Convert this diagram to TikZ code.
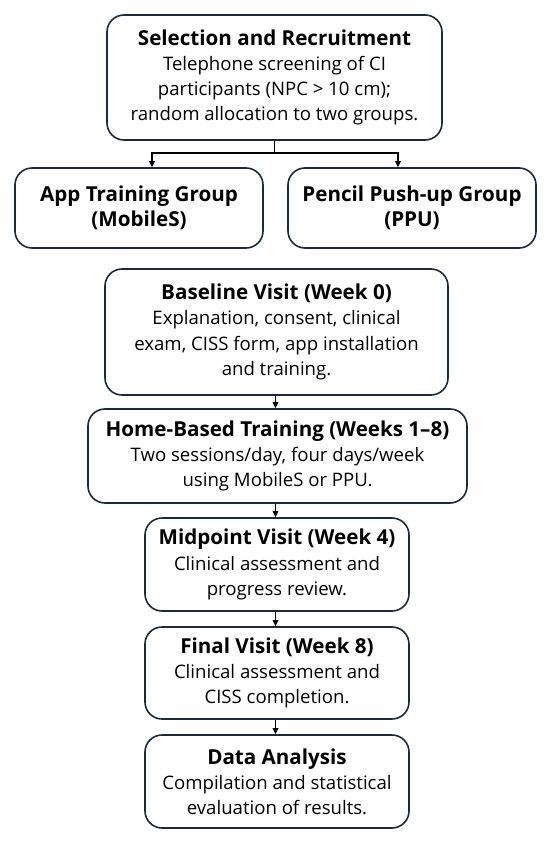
\documentclass[tikz,border=0pt]{standalone}
\usepackage{fontspec}
\setmainfont{Open Sans}
\usetikzlibrary{arrows.meta}
\definecolor{boxline}{HTML}{1B2B3C}
\tikzset{
  box/.style={draw=boxline, line width=1.6pt, rounded corners=17pt, fill=white,
    align=center, inner sep=0pt, font=\fontsize{18.6}{25.2}\selectfont},
  arr/.style={draw=black, line width=1.2pt, -{Triangle[length=6pt,width=5.5pt]}},
}
\newcommand{\ttl}[1]{{\fontsize{20.6}{25.2}\selectfont\bfseries #1}}
\begin{document}
\begin{tikzpicture}[x=1pt,y=-1pt]
\useasboundingbox (0,0) rectangle (550,842);
\node[box, minimum width=335pt, minimum height=125pt] (sel) at (274.5,77.5)
  {\ttl{Selection and Recruitment}\\Telephone screening of CI\\participants (NPC > 10 cm);\\random allocation to two groups.};
\node[box, minimum width=248pt, minimum height=80pt] (app) at (139,208)
  {\ttl{App Training Group}\\\ttl{(MobileS)}};
\node[box, minimum width=248pt, minimum height=80pt] (ppu) at (412,208)
  {\ttl{Pencil Push-up Group}\\\ttl{(PPU)}};
\node[box, minimum width=343pt, minimum height=126pt] (base) at (276.5,332)
  {\ttl{Baseline Visit (Week 0)}\\Explanation, consent, clinical\\exam, CISS form, app installation\\and training.};
\node[box, minimum width=379pt, minimum height=94pt] (home) at (277.5,456)
  {\ttl{Home-Based Training (Weeks 1–8)}\\Two sessions/day, four days/week\\using MobileS or PPU.};
\node[box, minimum width=264pt, minimum height=93pt] (mid) at (277,564.5)
  {\ttl{Midpoint Visit (Week 4)}\\Clinical assessment and\\progress review.};
\node[box, minimum width=264pt, minimum height=92pt] (fin) at (277,673)
  {\ttl{Final Visit (Week 8)}\\Clinical assessment and\\CISS completion.};
\node[box, minimum width=264pt, minimum height=93pt] (data) at (277,781.5)
  {\ttl{Data Analysis}\\Compilation and statistical\\evaluation of results.};
\coordinate (j) at (274.5,153);
\draw[line width=1.2pt] (sel.south) -- (j);
\draw[arr] (j) -| ([xshift=13pt]app.north);
\draw[arr] (j) -| ([xshift=-14pt]ppu.north);
\draw[arr] ([xshift=-1pt]base.south) -- ([xshift=-1pt]base.south |- home.north);
\draw[arr] ([xshift=-2pt]home.south) -- ([xshift=-2pt]home.south |- mid.north);
\draw[arr] ([xshift=-1.5pt]mid.south) -- ([xshift=-1.5pt]mid.south |- fin.north);
\draw[arr] ([xshift=-1.5pt]fin.south) -- ([xshift=-1.5pt]fin.south |- data.north);
\end{tikzpicture}
\end{document}
